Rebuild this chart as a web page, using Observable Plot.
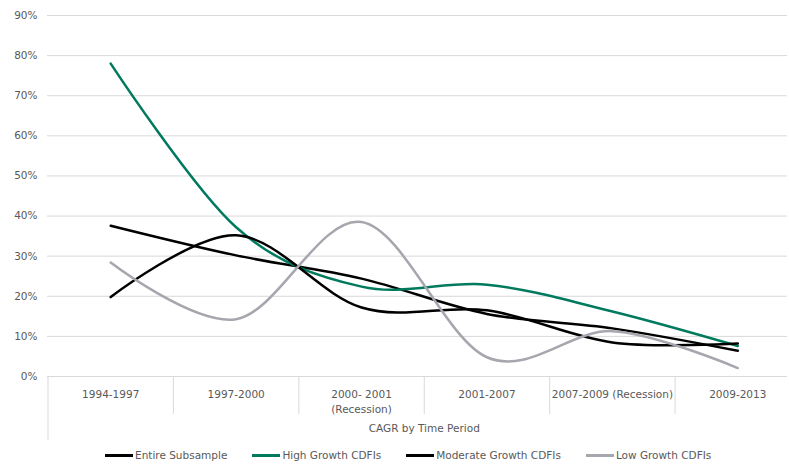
<!DOCTYPE html>
<html><head><meta charset="utf-8">
<script src="https://cdn.jsdelivr.net/npm/d3@7"></script>
<script src="https://cdn.jsdelivr.net/npm/@observablehq/plot@0.6"></script>
<style>
body{margin:0;background:#fff;font-family:"DejaVu Sans",sans-serif;}
#legend{display:flex;align-items:center;padding-left:105px;height:22px;font-size:10.5px;color:#595959;}
#legend .item{display:flex;align-items:center;margin-right:25px;}
#legend .sw{width:28px;height:3px;margin-right:2px;}
</style></head><body><div id="chart"></div><div id="legend"></div>
<script>
const categories = ["1994-1997","1997-2000","2000- 2001\n(Recession)","2001-2007","2007-2009 (Recession)","2009-2013"];
const seriesNames = ["Entire Subsample","High Growth CDFIs","Moderate Growth CDFIs","Low Growth CDFIs"];
const seriesColors = ["#000000","#007a5e","#000000","#a6a6ae"];
const entire   = [37.6, 30.2, 24.4, 15.6, 12.0, 6.4];
const high     = [78.0, 37.2, 22.4, 22.9, 16.2, 7.6];
const moderate = [19.8, 35.2, 17.2, 16.5, 8.5, 8.2];
const low      = [28.4, 14.3, 38.5, 4.8, 11.3, 2.1];
const yTicks = [0,10,20,30,40,50,60,70,80,90];
const axisTitle = "CAGR by Time Period";

const seriesValues = [entire, high, moderate, low];
const data = [];
seriesValues.forEach((vals, s) => vals.forEach((v, i) => data.push({series: seriesNames[s], i, v})));
const idx = categories.map((_, i) => i);
const bounds = categories.slice(1).map((_, i) => i + 0.5);

const plot = Plot.plot({
  width: 789, height: 444,
  marginTop: 15, marginBottom: 68, marginLeft: 47, marginRight: 2,
  style: {fontFamily: "DejaVu Sans", fontSize: "10.5px", color: "#595959", background: "#fff"},
  x: {type: "linear", domain: [-0.5, 5.5], range: [47.5, 800]},
  y: {domain: [0, 90]},
  color: {domain: seriesNames, range: seriesColors},
  marks: [
    Plot.ruleY(yTicks, {stroke: "#d9d9d9", strokeWidth: 1}),
    Plot.axisY({ticks: yTicks, tickSize: 0, tickPadding: 10, tickFormat: d => d + "%", label: null}),
    Plot.axisX({ticks: bounds, tickSize: 38, tickFormat: () => "", stroke: "#d9d9d9", strokeOpacity: 1, label: null}),
    Plot.axisX({ticks: [-0.5], tickSize: 64, tickFormat: () => "", stroke: "#d9d9d9", strokeOpacity: 1, label: null}),
    Plot.axisX({ticks: idx, tickSize: 0, tickPadding: 11, lineHeight: 1.4, tickFormat: i => categories[i], label: null}),
    Plot.text([axisTitle], {x: () => 2.5, frameAnchor: "bottom", dy: 55, text: d => d, fill: "#595959"}),
    Plot.line(data, {x: "i", y: "v", z: "series", stroke: "series", curve: "cardinal", strokeWidth: 2.5})
  ]
});
document.getElementById("chart").appendChild(plot);

const leg = document.getElementById("legend");
seriesNames.forEach((n, k) => {
  const it = document.createElement("div"); it.className = "item";
  const sw = document.createElement("span"); sw.className = "sw"; sw.style.background = seriesColors[k];
  const tx = document.createElement("span"); tx.textContent = n;
  it.appendChild(sw); it.appendChild(tx); leg.appendChild(it);
});
</script></body></html>
